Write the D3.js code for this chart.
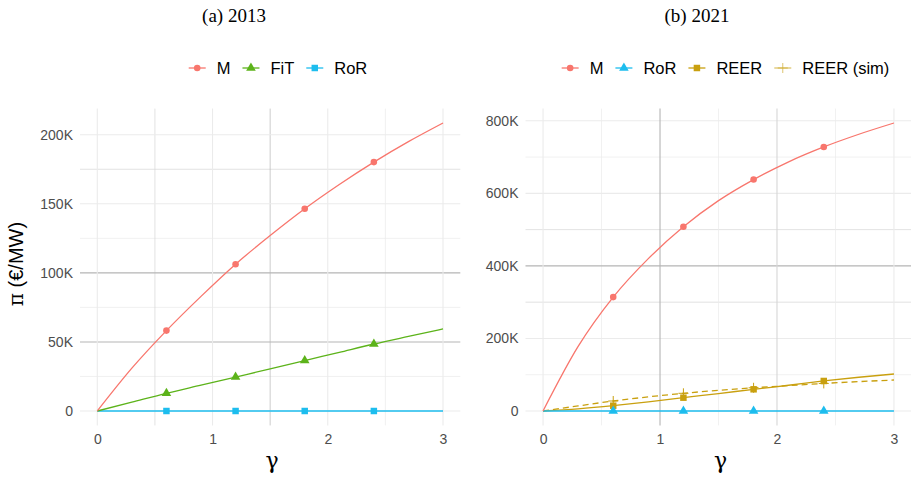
<!DOCTYPE html>
<html>
<head>
<meta charset="utf-8">
<script src="https://cdn.jsdelivr.net/npm/d3@7/dist/d3.min.js"></script>
<style>
  body { margin: 0; background: #fff; }
  svg text { font-family: "Liberation Sans", Arial, sans-serif; }
</style>
</head>
<body>
<div id="chart"></div>
<script>
// x values of the lines (gamma), markers sit on every other point
var gamma = [0, 0.3, 0.6, 0.9, 1.2, 1.5, 1.8, 2.1, 2.4, 2.7, 3];
var markerIdx = [2, 4, 6, 8];
var xTicks = [0, 1, 2, 3];

// (a) 2013, values in EUR/MW
var m2013 = [0, 31000, 58200, 83000, 106300, 127000, 146400, 164000, 180200, 195000, 208500];
var fit2013 = [0, 6400, 12800, 18700, 24600, 30500, 36500, 42500, 48500, 54000, 59400];
var ror2013 = [0, 0, 0, 0, 0, 0, 0, 0, 0, 0, 0];
var yTicks2013 = [0, 50000, 100000, 150000, 200000];

// (b) 2021
var m2021 = [0, 178000, 314000, 420000, 508000, 580000, 638000, 687000, 728000, 763000, 794000];
var ror2021 = [0, 0, 0, 0, 0, 0, 0, 0, 0, 0, 0];
var reer2021 = [0, 6000, 14600, 25000, 36700, 48000, 59800, 71000, 82800, 93000, 102000];
var reerSim2021 = [0, 14000, 27600, 39000, 48800, 57000, 64000, 70000, 76000, 81000, 85500];
var yTicks2021 = [0, 200000, 400000, 600000, 800000];

var colors = { M: '#f8766d', FiT: '#5cb31a', RoR: '#1dbdee', REER: '#c9a00f' };

var W = 911, H = 480;
var plotTop = 108.6, plotBottom = 425.4;

var svg = d3.select('#chart').append('svg').attr('width', W).attr('height', H);

var panels = [
  {
    title: '(a) 2013', left: 80, right: 460.3, legendCenter: 278, titleX: 234,
    yMax: 208500, yTicks: yTicks2013,
    hDark: [50000, 100000], hMid: [175000], vDark: [1.5], vMid: [0.5],
    series: [
      { name: 'M', values: m2013, color: colors.M, shape: d3.symbolCircle },
      { name: 'FiT', values: fit2013, color: colors.FiT, shape: d3.symbolTriangle },
      { name: 'RoR', values: ror2013, color: colors.RoR, shape: d3.symbolSquare }
    ]
  },
  {
    title: '(b) 2021', left: 525.5, right: 911.5, legendCenter: 725.5, titleX: 697,
    yMax: 794000, yTicks: yTicks2021,
    hDark: [400000], hMid: [300000, 500000], vDark: [1], vMid: [2],
    series: [
      { name: 'M', values: m2021, color: colors.M, shape: d3.symbolCircle },
      { name: 'RoR', values: ror2021, color: colors.RoR, shape: d3.symbolTriangle },
      { name: 'REER', values: reer2021, color: colors.REER, shape: d3.symbolSquare },
      { name: 'REER (sim)', values: reerSim2021, color: colors.REER, shape: 'plus', dashed: true, keyOpacity: 0.6 }
    ]
  }
];

function fmt(d) { return d === 0 ? '0' : (d / 1000) + 'K'; }

function drawMarker(g, shape, color, x, y, opacity) {
  if (shape === 'plus') {
    g.append('path').attr('d', 'M' + (x - 5) + ',' + y + 'H' + (x + 5) + 'M' + x + ',' + (y - 5) + 'V' + (y + 5))
      .attr('stroke', color).attr('stroke-width', 1).attr('opacity', opacity || 1);
  } else {
    var size = shape === d3.symbolSquare ? 42 : shape === d3.symbolTriangle ? 40 : 34;
    g.append('path').attr('d', d3.symbol().type(shape).size(size)())
      .attr('transform', 'translate(' + x + ',' + y + ')')
      .attr('fill', color).attr('opacity', opacity || 1);
  }
}

panels.forEach(function (p) {
  var pad = p.yMax * 0.05;
  var x = d3.scaleLinear().domain([-0.15, 3.15]).range([p.left, p.right]);
  var y = d3.scaleLinear().domain([-pad, p.yMax + pad]).range([plotBottom, plotTop]);
  var g = svg.append('g');

  function gridColor(v, dark, mid) {
    if (dark.some(function (d) { return Math.abs(d - v) < 1e-6; })) return '#b5b5b5';
    if (mid.some(function (d) { return Math.abs(d - v) < 1e-6; })) return '#d6d6d6';
    return '#ebebeb';
  }

  // minor + major grid
  var step = p.yTicks[1] - p.yTicks[0];
  var hMinor = p.yTicks.map(function (d) { return d + step / 2; }).filter(function (d) { return d < p.yMax + pad; });
  var vMinor = [0.5, 1.5, 2.5];
  hMinor.forEach(function (v) {
    g.append('line').attr('x1', p.left).attr('x2', p.right).attr('y1', y(v)).attr('y2', y(v))
      .attr('stroke', gridColor(v, p.hDark, p.hMid)).attr('stroke-width', 0.7);
  });
  vMinor.forEach(function (v) {
    g.append('line').attr('y1', plotTop).attr('y2', plotBottom).attr('x1', x(v)).attr('x2', x(v))
      .attr('stroke', gridColor(v, p.vDark, p.vMid)).attr('stroke-width', 0.7);
  });
  p.yTicks.forEach(function (v) {
    g.append('line').attr('x1', p.left).attr('x2', p.right).attr('y1', y(v)).attr('y2', y(v))
      .attr('stroke', gridColor(v, p.hDark, p.hMid)).attr('stroke-width', 1.1);
  });
  xTicks.forEach(function (v) {
    g.append('line').attr('y1', plotTop).attr('y2', plotBottom).attr('x1', x(v)).attr('x2', x(v))
      .attr('stroke', gridColor(v, p.vDark, p.vMid)).attr('stroke-width', 1.1);
  });

  // axes (labels only, ggplot minimal)
  var yAxis = d3.axisLeft(y).tickValues(p.yTicks).tickFormat(fmt).tickSize(0).tickPadding(7);
  var ya = g.append('g').attr('transform', 'translate(' + p.left + ',0)').call(yAxis)
    .attr('font-size', null).attr('font-family', null);
  ya.select('.domain').remove();
  ya.selectAll('text').style('font-size', '14px').style('fill', '#4d4d4d');

  var xAxis = d3.axisBottom(x).tickValues(xTicks).tickFormat(d3.format('d')).tickSize(0).tickPadding(9);
  var xa = g.append('g').attr('transform', 'translate(0,' + plotBottom + ')').call(xAxis)
    .attr('font-size', null).attr('font-family', null);
  xa.select('.domain').remove();
  xa.selectAll('text').style('font-size', '14px').style('fill', '#4d4d4d');

  // lines
  var line = d3.line().x(function (d, i) { return x(gamma[i]); }).y(function (d) { return y(d); }).curve(d3.curveMonotoneX);
  p.series.slice().reverse().forEach(function (s) {
    g.append('path').attr('d', line(s.values)).attr('fill', 'none')
      .attr('stroke', s.color).attr('stroke-width', 1.3)
      .attr('stroke-dasharray', s.dashed ? '6,4' : null);
  });
  p.series.slice().reverse().forEach(function (s) {
    markerIdx.forEach(function (i) {
      drawMarker(g, s.shape, s.color, x(gamma[i]), y(s.values[i]));
    });
  });

  // title
  svg.append('text').attr('x', p.titleX).attr('y', 22).attr('text-anchor', 'middle')
    .style('font-family', '"Liberation Serif", "DejaVu Serif", serif').style('font-size', '19px')
    .attr('fill', '#000').text(p.title);

  // x axis label
  svg.append('text').attr('x', (p.left + p.right) / 2 + 2).attr('y', 468).attr('text-anchor', 'middle')
    .style('font-family', '"DejaVu Serif", serif').style('font-size', '22px').attr('fill', '#000').text('γ');

  // legend
  var lg = svg.append('g');
  var items = [];
  var cx = 0;
  p.series.forEach(function (s) {
    var it = lg.append('g');
    it.append('line').attr('x1', 0).attr('x2', 17).attr('y1', 0).attr('y2', 0)
      .attr('stroke', s.color).attr('stroke-width', 1.3).attr('opacity', s.keyOpacity || 1);
    drawMarker(it, s.shape, s.color, 8.5, 0, s.keyOpacity);
    var t = it.append('text').attr('x', 28).attr('y', 6).style('font-size', '16.5px').attr('fill', '#000').text(s.name);
    var w = 28 + t.node().getComputedTextLength();
    items.push({ g: it, x: cx });
    cx += w + 12;
  });
  var total = cx - 12;
  var x0 = p.legendCenter - total / 2;
  items.forEach(function (it) { it.g.attr('transform', 'translate(' + (x0 + it.x) + ',68)'); });
});

// y axis title
var yl = svg.append('text').attr('transform', 'translate(23,264) rotate(-90)').attr('text-anchor', 'middle')
  .style('font-size', '20px').attr('fill', '#000');
yl.append('tspan').style('font-family', '"DejaVu Serif", serif').text('π');
yl.append('tspan').text(' (€/MW)');
</script>
</body>
</html>
